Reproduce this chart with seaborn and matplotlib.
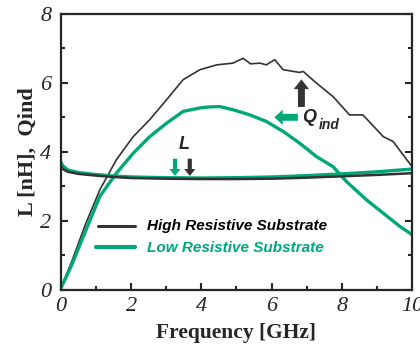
import numpy as np
import pandas as pd
import matplotlib.pyplot as plt
import seaborn as sns

# Q curves
q_freq_high = [0.0, 0.3, 0.7, 1.11, 1.58, 2.06, 2.53, 3.01, 3.48, 3.96, 4.44, 4.9, 5.19, 5.4, 5.67,
               5.85, 6.09, 6.33, 6.8, 6.9, 7.28, 7.75, 8.22, 8.6, 9.18, 9.46, 10.0]
q_high = [0.05, 0.8, 1.9, 2.9, 3.77, 4.44, 4.93, 5.51, 6.09, 6.38, 6.52, 6.57, 6.71, 6.55, 6.57,
          6.52, 6.67, 6.38, 6.3, 6.33, 5.99, 5.6, 5.07, 5.07, 4.44, 4.3, 3.57]
q_freq_low = [0.0, 0.3, 0.7, 1.11, 1.58, 2.06, 2.53, 3.01, 3.48, 3.96, 4.2, 4.53, 4.9, 5.38, 5.85,
              6.33, 6.8, 7.28, 7.75, 8.13, 8.7, 9.18, 9.65, 10.0]
q_low = [0.05, 0.7, 1.7, 2.71, 3.38, 3.96, 4.44, 4.83, 5.17, 5.27, 5.3, 5.31, 5.22, 5.07, 4.88,
         4.59, 4.25, 3.86, 3.57, 3.14, 2.61, 2.22, 1.84, 1.6]

# inductance curves
l_freq = [0.0, 0.05, 0.2, 0.5, 1.0, 1.5, 2.0, 3.0, 4.0, 5.0, 6.0, 7.0, 8.0, 9.0, 10.0]
l_high = [3.6, 3.5, 3.42, 3.36, 3.31, 3.27, 3.24, 3.22, 3.21, 3.21, 3.22, 3.25, 3.29, 3.33, 3.38]
l_low = [3.7, 3.6, 3.47, 3.4, 3.34, 3.3, 3.27, 3.25, 3.24, 3.25, 3.27, 3.31, 3.36, 3.42, 3.5]

x_ticks = [0, 2, 4, 6, 8, 10]
y_ticks = [0, 2, 4, 6, 8]

dark = '#333333'
green = '#00a878'

df_q = pd.concat([
    pd.DataFrame({'f': q_freq_high, 'v': q_high, 's': 'High Resistive Substrate'}),
    pd.DataFrame({'f': q_freq_low, 'v': q_low, 's': 'Low Resistive Substrate'}),
])
df_l = pd.concat([
    pd.DataFrame({'f': l_freq, 'v': l_high, 's': 'High Resistive Substrate'}),
    pd.DataFrame({'f': l_freq, 'v': l_low, 's': 'Low Resistive Substrate'}),
])

sns.set_style('ticks')
plt.rcParams['font.family'] = ['Liberation Serif', 'DejaVu Serif']

fig = plt.figure(figsize=(4.2, 3.45), dpi=100)
ax = fig.add_axes([0.145, 0.16, 0.836, 0.8])

sns.lineplot(data=df_q[df_q.s == 'High Resistive Substrate'], x='f', y='v', color=dark, lw=1.2, ax=ax)
sns.lineplot(data=df_q[df_q.s == 'Low Resistive Substrate'], x='f', y='v', color=green, lw=2.4, ax=ax)
sns.lineplot(data=df_l[df_l.s == 'Low Resistive Substrate'], x='f', y='v', color=green, lw=2.4, ax=ax)
sns.lineplot(data=df_l[df_l.s == 'High Resistive Substrate'], x='f', y='v', color=dark, lw=1.8, ax=ax)

ax.set_xlim(0, 10)
ax.set_ylim(0, 8)
ax.set_xticks(x_ticks, [str(t) for t in x_ticks], fontstyle='italic')
ax.set_xticks([1, 3, 5, 7, 9], minor=True)
ax.set_yticks(y_ticks, [str(t) for t in y_ticks], fontstyle='italic')
ax.set_yticks([1, 3, 5, 7], minor=True)
ax.tick_params(which='both', direction='in', right=True, top=False, width=1.5)
ax.tick_params(which='major', length=5, labelsize=16)
ax.tick_params(axis='x', which='major', pad=5)
ax.tick_params(axis='y', which='major', pad=7)
ax.tick_params(which='minor', length=3)
for sp in ax.spines.values():
    sp.set_linewidth(1.6)
    sp.set_visible(True)

ax.set_xlabel('Frequency [GHz]', fontsize=15.5, fontweight='bold', labelpad=5)
ax.set_ylabel('L [nH],  Qind', fontsize=16, fontweight='bold', labelpad=2)

# legend drawn by hand to match the layout
sans = ['Liberation Sans', 'DejaVu Sans']
ax.plot([1.05, 2.1], [1.85, 1.85], color=dark, lw=2.2)
ax.plot([1.0, 2.1], [1.23, 1.23], color=green, lw=3.0)
ax.text(2.45, 1.85, 'High Resistive Substrate', color='black', fontsize=11, fontweight='bold',
        fontstyle='italic', family=sans, va='center')
ax.text(2.45, 1.2, 'Low Resistive Substrate', color=green, fontsize=11, fontweight='bold',
        fontstyle='italic', family=sans, va='center')

# arrows and labels
ax.annotate('', xy=(6.85, 6.1), xytext=(6.85, 5.3),
            arrowprops=dict(width=5, headwidth=11, headlength=7, fc=dark, ec='none'))
ax.annotate('', xy=(6.08, 5.0), xytext=(6.75, 5.0),
            arrowprops=dict(width=5, headwidth=11, headlength=6, fc=green, ec='none'))
ax.text(6.88, 5.0, 'Q', fontsize=13, va='center', family=sans,
        fontstyle='italic', fontweight='bold')
ax.text(7.33, 4.78, 'ind', fontsize=10, va='center', family=sans,
        fontstyle='italic', fontweight='bold')
ax.text(3.5, 4.2, 'L', fontsize=13, fontweight='bold', fontstyle='italic', family=sans,
        ha='center', va='center')
ax.annotate('', xy=(3.25, 3.3), xytext=(3.25, 3.8),
            arrowprops=dict(width=3, headwidth=8, headlength=5, fc=green, ec='none'))
ax.annotate('', xy=(3.67, 3.3), xytext=(3.67, 3.8),
            arrowprops=dict(width=3, headwidth=8, headlength=5, fc=dark, ec='none'))

fig.savefig('out.png', dpi=100)
